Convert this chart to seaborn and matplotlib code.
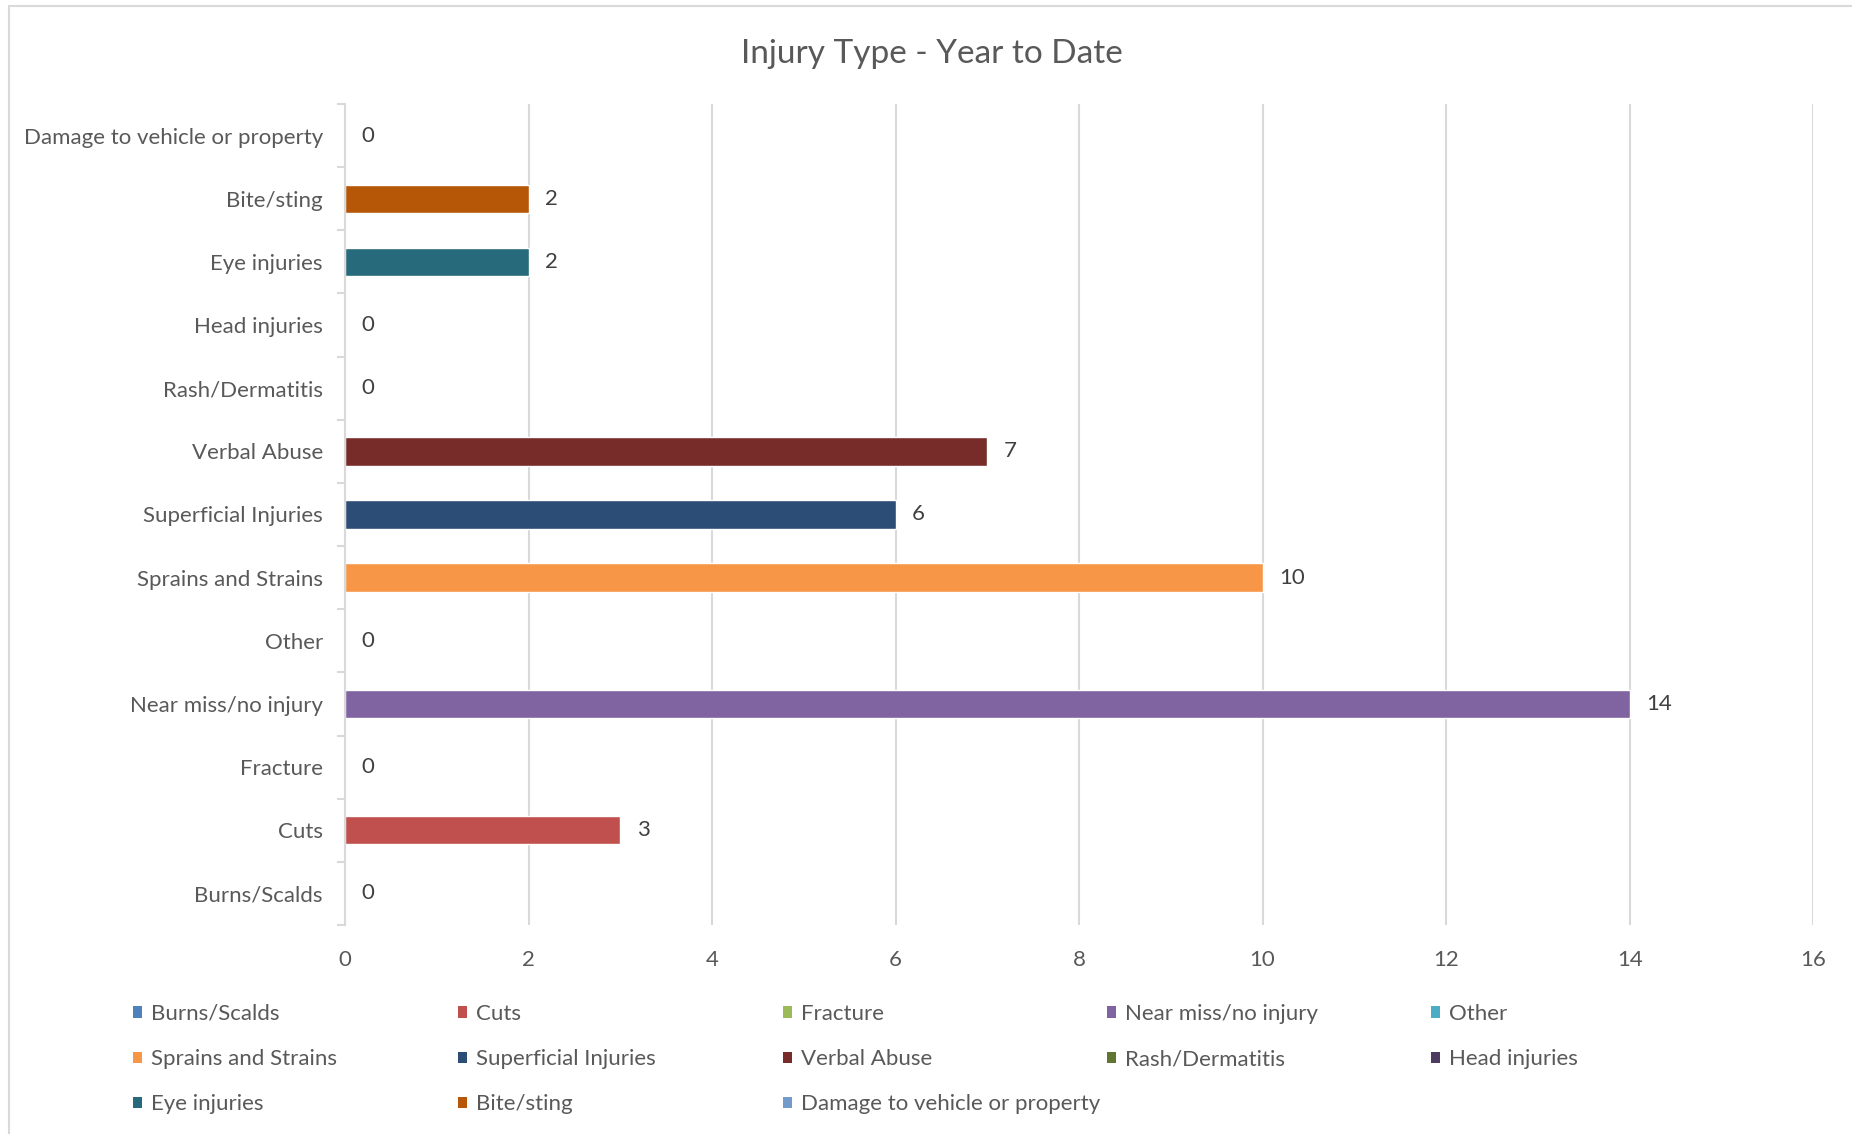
import pandas as pd
import matplotlib.pyplot as plt
import matplotlib.patches as mpatches
import seaborn as sns

# data, top to bottom as drawn
categories = ["Damage to vehicle or property", "Bite/sting", "Eye injuries", "Head injuries",
              "Rash/Dermatitis", "Verbal Abuse", "Superficial Injuries", "Sprains and Strains",
              "Other", "Near miss/no injury", "Fracture", "Cuts", "Burns/Scalds"]
counts = [0, 2, 2, 0, 0, 7, 6, 10, 0, 14, 0, 3, 0]
colors = ["#729ACA", "#B65708", "#276A7C", "#4D3B62", "#5F7530", "#772C2A", "#2C4D75",
          "#F79646", "#4BACC6", "#8064A2", "#9BBB59", "#C0504D", "#4F81BD"]

# legend order (series order in the workbook)
legend_order = ["Burns/Scalds", "Cuts", "Fracture", "Near miss/no injury", "Other",
                "Sprains and Strains", "Superficial Injuries", "Verbal Abuse", "Rash/Dermatitis",
                "Head injuries", "Eye injuries", "Bite/sting", "Damage to vehicle or property"]

df = pd.DataFrame({"Injury": categories, "Count": counts})
palette = dict(zip(categories, colors))

sns.set_style("white")
plt.rcParams["font.family"] = ["Lato", "DejaVu Sans"]

fig = plt.figure(figsize=(18.52, 11.34), dpi=100)
ax = fig.add_axes([0.1863, 0.1843, 0.979 - 0.1863, 0.9083 - 0.1843])

sns.barplot(data=df, x="Count", y="Injury", hue="Injury", palette=palette, order=categories,
            width=0.45, edgecolor="white", linewidth=1, legend=False, ax=ax, saturation=1)

# data labels
for cont in ax.containers:
    ax.bar_label(cont, fmt="%d", padding=12, fontsize=16, color="#404040")

ax.set_xlim(0, 16)
ax.set_xticks(range(0, 17, 2))
ax.set_ylim(len(categories) - 0.5, -0.5)
ax.set_yticks(range(len(categories)))
ax.set_yticks([i - 0.5 for i in range(len(categories) + 1)], minor=True)
ax.grid(axis="x", color="#d9d9d9", linewidth=1.5)
ax.set_axisbelow(True)
ax.set_xlabel("")
ax.set_ylabel("")

for s in ["top", "right", "bottom"]:
    ax.spines[s].set_visible(False)
ax.spines["left"].set_color("#d9d9d9")
ax.spines["left"].set_linewidth(1.5)

ax.tick_params(axis="y", which="major", length=0, pad=16, labelsize=16, labelcolor="#595959")
ax.tick_params(axis="y", which="minor", length=6, width=1.5, color="#d9d9d9", left=True)
ax.tick_params(axis="x", length=0, pad=18, labelsize=16, labelcolor="#595959")

fig.suptitle("Injury Type - Year to Date", x=0.503, y=0.966, fontsize=24, color="#595959")

# legend, one block per column so columns are evenly spaced
handles = [mpatches.Patch(facecolor=palette[c], edgecolor="none") for c in legend_order]
col_x = [133, 458, 783, 1107, 1431]
for j, x in enumerate(col_x):
    idx = list(range(j, len(legend_order), 5))
    fig.legend([handles[i] for i in idx], [legend_order[i] for i in idx],
               loc="upper left", bbox_to_anchor=(x / 1852, 1 - 1004 / 1134),
               frameon=False, fontsize=16, labelcolor="#595959",
               handlelength=0.4, handleheight=0.4, handletextpad=0.4,
               labelspacing=1.13, borderpad=0, borderaxespad=0)

# chart border as in the screenshot
fig.patches.append(mpatches.Rectangle((9 / 1852, -0.1), 1.2, 1 - 6 / 1134 + 0.1,
                                      transform=fig.transFigure, fill=False,
                                      edgecolor="#d9d9d9", linewidth=1.5))

plt.savefig("out.png", dpi=100)
